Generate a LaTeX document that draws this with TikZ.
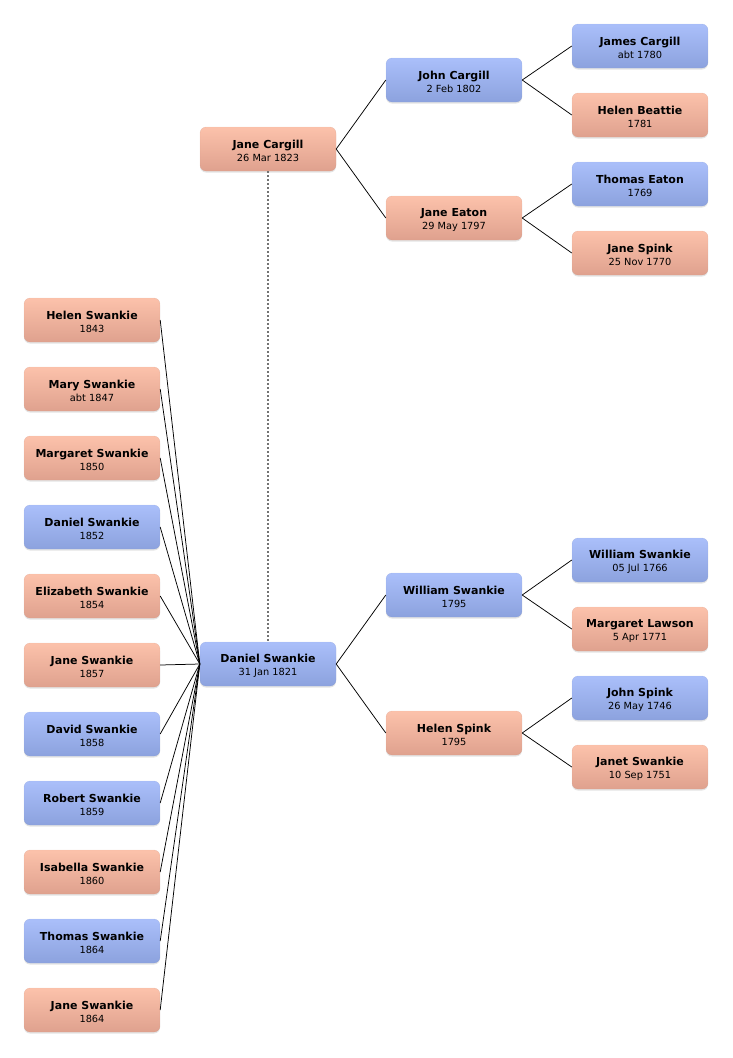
\documentclass[tikz,border=0pt]{standalone}
\usepackage{fontspec}
\setmainfont{DejaVu Sans}
\usetikzlibrary{shadows}
\definecolor{mtop}{HTML}{AABFFA}
\definecolor{mbot}{HTML}{8CA2DE}
\definecolor{ftop}{HTML}{FCC2AB}
\definecolor{fbot}{HTML}{DFA18E}
\tikzset{
  person/.style={rounded corners=6pt, minimum width=136pt, minimum height=44pt,
    inner sep=0pt, align=center, text=black,
    drop shadow={opacity=0.22, shadow xshift=0pt, shadow yshift=-1.5pt}},
  male/.style={person, top color=mtop, bottom color=mbot, draw=mbot!90!black, draw opacity=0.3},
  female/.style={person, top color=ftop, bottom color=fbot, draw=fbot!90!black, draw opacity=0.3},
  link/.style={draw=black, line width=0.75pt},
  spouse/.style={draw=black!55, line width=1.3pt, dash pattern=on 2pt off 2pt},
}
\newcommand{\pp}[2]{{\fontsize{11}{12}\selectfont\bfseries\rule{0pt}{12.5pt}#1}\\[1pt]{\fontsize{9.8}{11}\selectfont #2}}
\begin{document}
\begin{tikzpicture}[x=1pt,y=-1pt]
\useasboundingbox (0,0) rectangle (732,1058);
% focus
\node[male] (daniel) at (268,664) {\pp{Daniel Swankie}{31 Jan 1821}};
\node[female] (janec) at (268,149) {\pp{Jane Cargill}{26 Mar 1823}};
% parents of Jane Cargill
\node[male] (johnc) at (454,80) {\pp{John Cargill}{2 Feb 1802}};
\node[female] (janee) at (454,218) {\pp{Jane Eaton}{29 May 1797}};
\node[male] (jamesc) at (640,46) {\pp{James Cargill}{abt 1780}};
\node[female] (helenb) at (640,115) {\pp{Helen Beattie}{1781}};
\node[male] (thomase) at (640,184) {\pp{Thomas Eaton}{1769}};
\node[female] (janesp) at (640,253) {\pp{Jane Spink}{25 Nov 1770}};
% parents of Daniel
\node[male] (williams) at (454,595) {\pp{William Swankie}{1795}};
\node[female] (helensp) at (454,733) {\pp{Helen Spink}{1795}};
\node[male] (williamso) at (640,560) {\pp{William Swankie}{05 Jul 1766}};
\node[female] (margl) at (640,629) {\pp{Margaret Lawson}{5 Apr 1771}};
\node[male] (johnsp) at (640,698) {\pp{John Spink}{26 May 1746}};
\node[female] (janets) at (640,767) {\pp{Janet Swankie}{10 Sep 1751}};
% children
\node[female] (c1) at (92,320) {\pp{Helen Swankie}{1843}};
\node[female] (c2) at (92,389) {\pp{Mary Swankie}{abt 1847}};
\node[female] (c3) at (92,458) {\pp{Margaret Swankie}{1850}};
\node[male] (c4) at (92,527) {\pp{Daniel Swankie}{1852}};
\node[female] (c5) at (92,596) {\pp{Elizabeth Swankie}{1854}};
\node[female] (c6) at (92,665) {\pp{Jane Swankie}{1857}};
\node[male] (c7) at (92,734) {\pp{David Swankie}{1858}};
\node[male] (c8) at (92,803) {\pp{Robert Swankie}{1859}};
\node[female] (c9) at (92,872) {\pp{Isabella Swankie}{1860}};
\node[male] (c10) at (92,941) {\pp{Thomas Swankie}{1864}};
\node[female] (c11) at (92,1010) {\pp{Jane Swankie}{1864}};
% connectors
\draw[spouse] (janec.south) -- (daniel.north);
\draw[link] (janec.east) -- (johnc.west);
\draw[link] (janec.east) -- (janee.west);
\draw[link] (johnc.east) -- (jamesc.west);
\draw[link] (johnc.east) -- (helenb.west);
\draw[link] (janee.east) -- (thomase.west);
\draw[link] (janee.east) -- (janesp.west);
\draw[link] (daniel.east) -- (williams.west);
\draw[link] (daniel.east) -- (helensp.west);
\draw[link] (williams.east) -- (williamso.west);
\draw[link] (williams.east) -- (margl.west);
\draw[link] (helensp.east) -- (johnsp.west);
\draw[link] (helensp.east) -- (janets.west);
\foreach \c in {c1,c2,c3,c4,c5,c6,c7,c8,c9,c10,c11}
  \draw[link] (\c.east) -- (daniel.west);
\end{tikzpicture}
\end{document}
